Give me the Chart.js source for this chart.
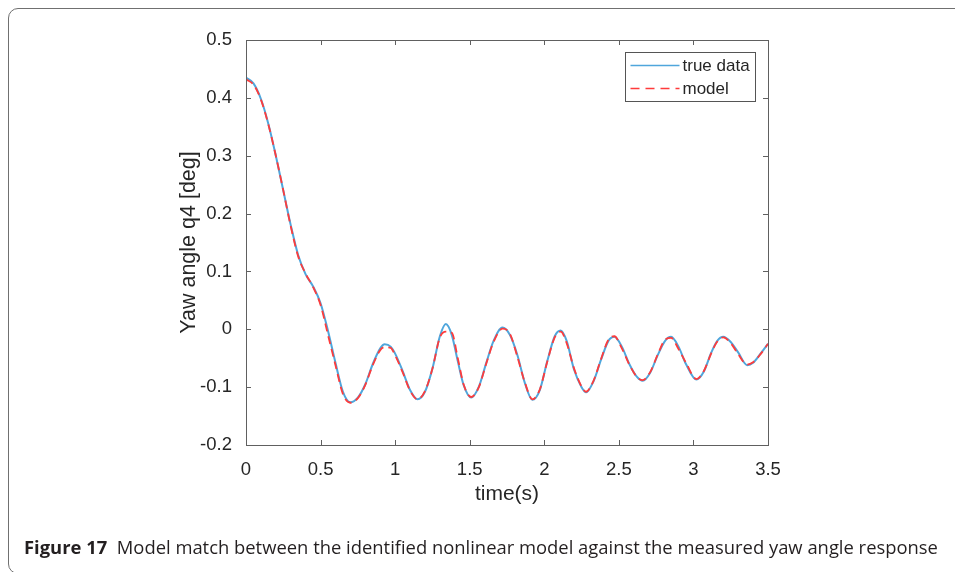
<!DOCTYPE html>
<html>
<head>
<meta charset="utf-8">
<script src="https://cdn.jsdelivr.net/npm/chart.js@4.4.0/dist/chart.umd.min.js"></script>
<style>
  html, body { margin: 0; padding: 0; background: #fff; }
  body { width: 955px; height: 572px; position: relative; overflow: hidden; }
  #frame {
    position: absolute; left: 8px; top: 8px; width: 980px; height: 566px;
    border: 1.5px solid #707070; border-radius: 10px; box-sizing: border-box;
  }
  #wrap { position: absolute; left: 0; top: 0; width: 955px; height: 572px; }
  #caption {
    position: absolute; left: 24px; top: 534px;
    font-family: 'Open Sans', 'Noto Sans', sans-serif; font-size: 18.4px;
    color: #231f20; white-space: nowrap;
  }
  #caption b { font-weight: 700; }
</style>
</head>
<body>
<div id="frame"></div>
<div id="wrap"><canvas id="yawChart" width="955" height="572"></canvas></div>
<div id="caption"><b>Figure 17</b>&nbsp;&nbsp;Model match between the identified nonlinear model against the measured yaw angle response</div>
<script>
// 时间轴 (s)
const timeS = [0.00, 0.05, 0.10, 0.15, 0.20, 0.25, 0.30, 0.35, 0.40, 0.45, 0.50, 0.55, 0.60, 0.65, 0.70,
  0.75, 0.80, 0.85, 0.90, 0.93, 0.97, 1.00, 1.05, 1.10, 1.15, 1.20, 1.25, 1.30, 1.34, 1.38,
  1.42, 1.46, 1.51, 1.56, 1.61, 1.66, 1.72, 1.77, 1.82, 1.87, 1.92, 1.97, 2.02, 2.07, 2.11,
  2.15, 2.20, 2.25, 2.28, 2.33, 2.38, 2.43, 2.47, 2.52, 2.57, 2.62, 2.66, 2.71, 2.76, 2.81,
  2.85, 2.90, 2.95, 3.02, 3.07, 3.12, 3.16, 3.20, 3.25, 3.30, 3.36, 3.40, 3.45, 3.50];

// 实测偏航角
const trueData = [0.435, 0.425, 0.398, 0.355, 0.300, 0.240, 0.180, 0.128, 0.095, 0.074, 0.045, -0.003, -0.058, -0.108, -0.126,
  -0.118, -0.095, -0.060, -0.033, -0.026, -0.030, -0.042, -0.072, -0.105, -0.121, -0.108, -0.068, -0.012, 0.009, -0.010,
  -0.055, -0.097, -0.118, -0.100, -0.059, -0.020, 0.003, -0.010, -0.045, -0.093, -0.122, -0.105, -0.055, -0.012, -0.002,
  -0.020, -0.070, -0.100, -0.109, -0.090, -0.053, -0.020, -0.013, -0.030, -0.060, -0.082, -0.089, -0.075, -0.045, -0.020,
  -0.013, -0.030, -0.060, -0.087, -0.073, -0.040, -0.020, -0.013, -0.022, -0.040, -0.062, -0.058, -0.042, -0.025];

// 模型输出
const modelData = [0.432, 0.423, 0.397, 0.354, 0.300, 0.240, 0.178, 0.126, 0.096, 0.073, 0.042, -0.010, -0.062, -0.112, -0.127,
  -0.119, -0.096, -0.062, -0.036, -0.031, -0.032, -0.045, -0.074, -0.106, -0.121, -0.107, -0.068, -0.014, -0.004, -0.006,
  -0.050, -0.096, -0.117, -0.101, -0.060, -0.022, 0.001, -0.008, -0.048, -0.092, -0.121, -0.104, -0.056, -0.014, -0.004,
  -0.024, -0.068, -0.099, -0.108, -0.089, -0.052, -0.018, -0.012, -0.033, -0.061, -0.082, -0.088, -0.074, -0.044, -0.018,
  -0.015, -0.034, -0.058, -0.086, -0.072, -0.041, -0.021, -0.014, -0.024, -0.043, -0.061, -0.057, -0.043, -0.025];

const seriesNames = ['true data', 'model'];
const xTicks = [0, 0.5, 1, 1.5, 2, 2.5, 3, 3.5];
const yTicks = [-0.2, -0.1, 0, 0.1, 0.2, 0.3, 0.4, 0.5];

const BLUE = '#4fa6dc';
const RED = '#ff3b3b';
const AXIS = '#606060';
const TEXT = '#262626';

// 坐标框 + 内向刻度 + 图例 (MATLAB 风格)
const matlabBox = {
  id: 'matlabBox',
  afterDatasetsDraw(chart) {
    const {ctx, chartArea: a, scales} = chart;
    ctx.save();
    ctx.strokeStyle = AXIS;
    ctx.lineWidth = 1;
    ctx.strokeRect(Math.round(a.left) + 0.5, Math.round(a.top) + 0.5, Math.round(a.width), Math.round(a.height));
    const len = 5;
    ctx.beginPath();
    xTicks.forEach(v => {
      const x = Math.round(scales.x.getPixelForValue(v)) + 0.5;
      ctx.moveTo(x, a.bottom); ctx.lineTo(x, a.bottom - len);
      ctx.moveTo(x, a.top); ctx.lineTo(x, a.top + len);
    });
    yTicks.forEach(v => {
      const y = Math.round(scales.y.getPixelForValue(v)) + 0.5;
      ctx.moveTo(a.left, y); ctx.lineTo(a.left + len, y);
      ctx.moveTo(a.right, y); ctx.lineTo(a.right - len, y);
    });
    ctx.stroke();

    // 图例
    const bw = 130, bh = 49;
    const bx = Math.round(a.right - 13 - bw) + 0.5, by = Math.round(a.top + 12) + 0.5;
    ctx.fillStyle = '#fff';
    ctx.fillRect(bx, by, bw, bh);
    ctx.strokeStyle = '#555';
    ctx.strokeRect(bx, by, bw, bh);
    const rows = [{c: BLUE, dash: []}, {c: RED, dash: [9, 6]}];
    ctx.font = "17px 'Liberation Sans', Arial, sans-serif";
    ctx.textBaseline = 'middle';
    rows.forEach((r, i) => {
      const y = by + 13 + i * 23;
      ctx.beginPath();
      ctx.setLineDash(r.dash);
      ctx.strokeStyle = r.c;
      ctx.lineWidth = 1.5;
      ctx.moveTo(bx + 5, y); ctx.lineTo(bx + 54, y);
      ctx.stroke();
      ctx.setLineDash([]);
      ctx.fillStyle = TEXT;
      ctx.fillText(seriesNames[i], bx + 57, y + 1);
    });
    ctx.restore();
  }
};

Chart.defaults.font.family = "'Liberation Sans', Arial, Helvetica, sans-serif";
Chart.defaults.color = TEXT;

const ctx = document.getElementById('yawChart');
new Chart(ctx, {
  type: 'line',
  data: {
    datasets: [{
      label: seriesNames[0],
      data: timeS.map((t, i) => ({x: t, y: trueData[i]})),
      borderColor: BLUE,
      borderWidth: 2,
      pointRadius: 0,
      cubicInterpolationMode: 'monotone',
      fill: false,
      order: 1
    }, {
      label: seriesNames[1],
      data: timeS.map((t, i) => ({x: t, y: modelData[i]})),
      borderColor: RED,
      borderWidth: 1.8,
      borderDash: [8, 5],
      pointRadius: 0,
      cubicInterpolationMode: 'monotone',
      fill: false,
      order: 0
    }]
  },
  options: {
    responsive: false,
    animation: false,
    layout: {padding: {left: 0, top: 40, right: 187, bottom: 0}},
    plugins: {legend: {display: false}, tooltip: {enabled: false}},
    scales: {
      x: {
        type: 'linear', min: 0, max: 3.5,
        afterBuildTicks: s => { s.ticks = xTicks.map(v => ({value: v})); },
        afterFit: s => { s.height = 127; },
        grid: {display: false},
        border: {display: false},
        ticks: {padding: 6, font: {size: 18.5}, color: TEXT, maxRotation: 0,
          callback: v => String(+v.toFixed(1))},
        title: {display: true, text: 'time(s)', font: {size: 21}, color: TEXT, padding: {top: 0, bottom: 65}}
      },
      y: {
        type: 'linear', min: -0.2, max: 0.5,
        afterBuildTicks: s => { s.ticks = yTicks.map(v => ({value: v})); },
        afterFit: s => { s.width = 246; },
        grid: {display: false},
        border: {display: false},
        ticks: {padding: 6, font: {size: 18.5}, color: TEXT,
          callback: v => String(+v.toFixed(1))},
        title: {display: true, text: 'Yaw angle q4 [deg]', font: {size: 21.5}, color: TEXT, padding: {top: 176, bottom: 0}}
      }
    }
  },
  plugins: [matlabBox]
});
</script>
</body>
</html>
